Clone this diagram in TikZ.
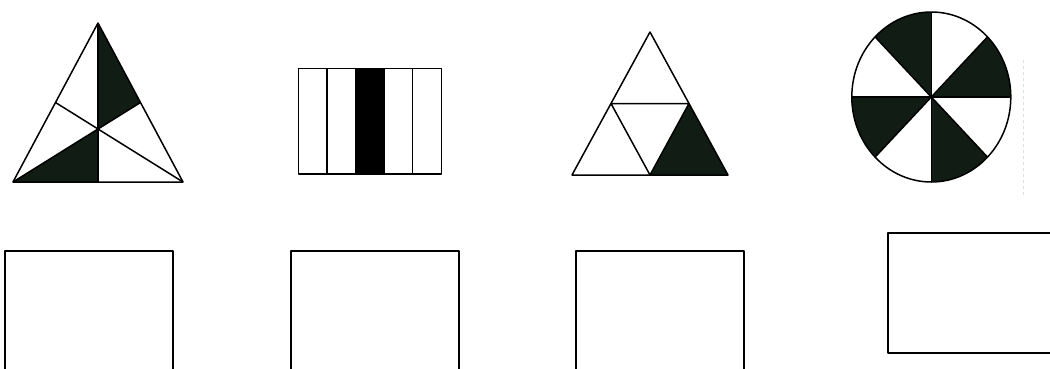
\documentclass[tikz,border=0pt]{standalone}
\usetikzlibrary{calc}
\definecolor{inkfill}{RGB}{16,28,20}
\begin{document}
\begin{tikzpicture}[x=1pt, y=1pt, line width=1.4pt, line join=round]
        \tikzset{
            part/.style={draw=black, line width=1.5pt},
            shade/.style={fill=inkfill},
            answerbox/.style={draw=black, line width=1.8pt}
        }
        \useasboundingbox (0,0) rectangle (1050,368);
        \clip (0,0) rectangle (1050,368);

        % Triangle cut by its three medians
        \coordinate (tA) at (13,186);
        \coordinate (tB) at (183,186);
        \coordinate (tC) at (98,345);
        \coordinate (tG) at (barycentric cs:tA=1,tB=1,tC=1);
        \coordinate (mAB) at ($(tA)!0.5!(tB)$);
        \coordinate (mBC) at ($(tB)!0.5!(tC)$);
        \coordinate (mCA) at ($(tC)!0.5!(tA)$);
        \fill[shade] (tC) -- (tG) -- (mBC) -- cycle;
        \fill[shade] (tA) -- (tG) -- (mAB) -- cycle;
        \draw[part] (tA) -- (tB) -- (tC) -- cycle;
        \draw[part] (tC) -- (mAB);
        \draw[part] (tA) -- (mBC);
        \draw[part] (tB) -- (mCA);

        % Rectangle in five strips
        \foreach \i in {0,...,4} {
            \coordinate (s\i) at ({298.3+28.6*\i},194);
        }
        \fill[black] (s2) rectangle ++(28.6,105.7);
        \foreach \i in {0,...,4} {
            \draw[part] (s\i) rectangle ++(28.6,105.7);
        }

        % Triangle in four smaller triangles
        \coordinate (qA) at (572,193);
        \coordinate (qB) at (728,193);
        \coordinate (qC) at (650,336);
        \coordinate (nAB) at ($(qA)!0.5!(qB)$);
        \coordinate (nBC) at ($(qB)!0.5!(qC)$);
        \coordinate (nCA) at ($(qC)!0.5!(qA)$);
        \fill[shade] (nAB) -- (qB) -- (nBC) -- cycle;
        \draw[part] (qA) -- (qB) -- (qC) -- cycle;
        \draw[part] (nAB) -- (nBC) -- (nCA) -- cycle;

        % Circle in eight sectors
        \coordinate (O) at (931.3,271);
        \foreach \a in {0,90,180,270} {
            \fill[shade] (O) -- ++(\a:79.5 and 85)
                arc[start angle=\a, end angle=\a+45, x radius=79.5, y radius=85] -- cycle;
        }
        \foreach \a in {0,45,...,315} {
            \draw[part] (O) -- ++(\a:79.5 and 85);
        }
        \draw[part] (O) ellipse[x radius=79.5, y radius=85];
        \draw[gray!25, line width=0.6pt, dashed] (1023.3,173) -- (1023.3,308);

        % Empty answer boxes
        \draw[answerbox] (5,-10) rectangle (173.3,117);
        \draw[answerbox] (290.7,-10) rectangle (459,117);
        \draw[answerbox] (576,-10) rectangle (744.3,117);
        \draw[answerbox] (888.3,15.3) rectangle (1062,134.7);
\end{tikzpicture}
\end{document}
